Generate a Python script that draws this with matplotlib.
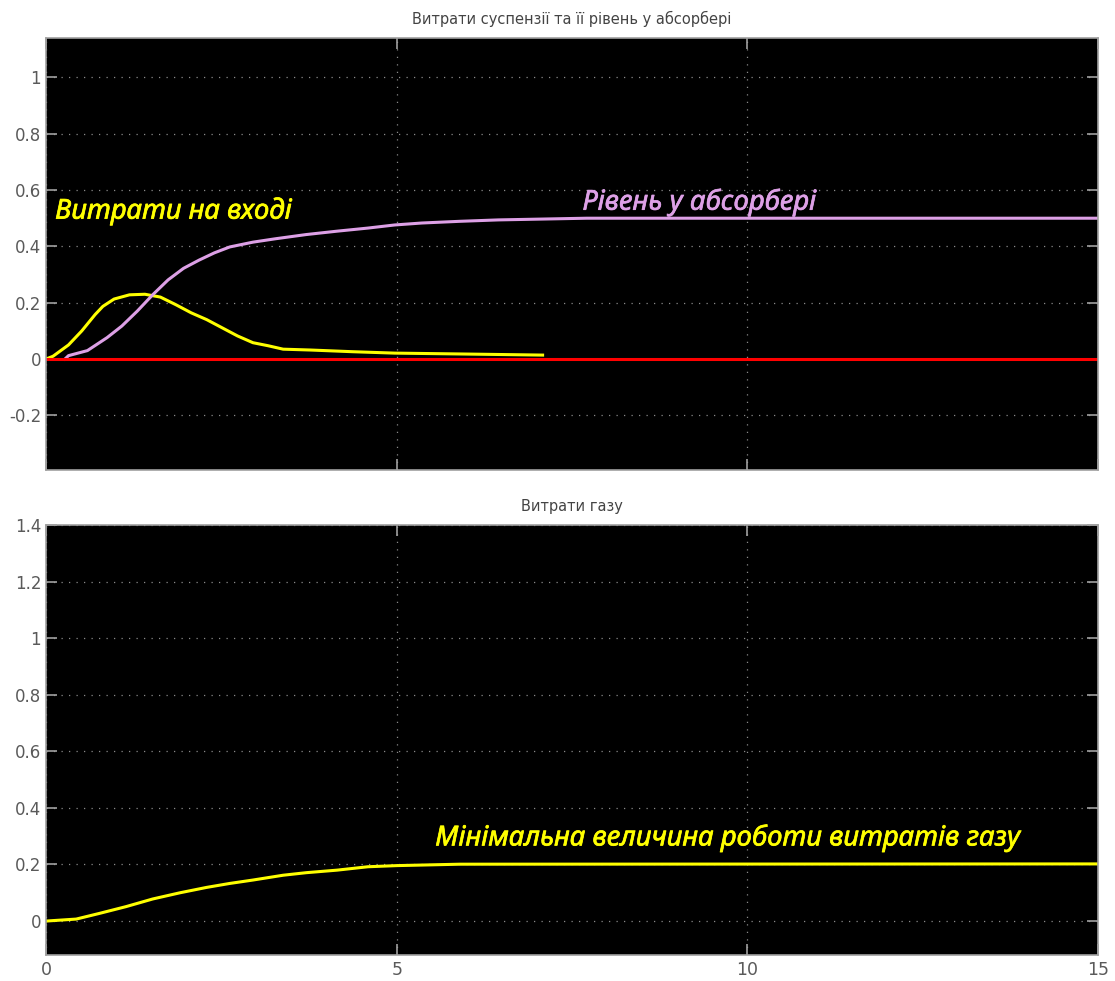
import matplotlib.pyplot as plt
import matplotlib.patheffects as pe
import numpy as np

# input flow (top plot, yellow)
t_in = [0.0, 0.1, 0.32, 0.51, 0.70, 0.81, 0.97, 1.19, 1.41, 1.63, 1.85, 2.07, 2.29,
        2.51, 2.73, 2.95, 3.17, 3.38, 3.77, 4.37, 4.97, 5.9, 7.08]
q_in = [0.0, 0.01, 0.05, 0.10, 0.158, 0.187, 0.213, 0.228, 0.23, 0.22, 0.193, 0.164, 0.14,
        0.111, 0.082, 0.058, 0.047, 0.035, 0.032, 0.026, 0.021, 0.018, 0.014]

# level in absorber (top plot, plum)
t_lvl = [0.27, 0.32, 0.59, 0.87, 1.08, 1.30, 1.52, 1.74, 1.96, 2.18, 2.40, 2.62, 2.95,
         3.27, 3.71, 4.15, 4.59, 4.97, 5.36, 5.9, 6.45, 7.71, 15.0]
lvl = [0.0, 0.012, 0.03, 0.076, 0.117, 0.17, 0.228, 0.281, 0.322, 0.351, 0.377, 0.398, 0.415,
       0.427, 0.442, 0.454, 0.465, 0.476, 0.483, 0.489, 0.494, 0.50, 0.50]

# zero reference (top plot, red)
t_ref = [0.0, 15.0]
ref = [0.0, 0.0]

# gas flow (bottom plot)
t_gas = [0.0, 0.43, 0.76, 1.14, 1.52, 1.91, 2.29, 2.62, 2.95, 3.38, 3.71, 4.15, 4.59,
         5.0, 5.9, 15.0]
q_gas = [0.0, 0.007, 0.027, 0.051, 0.078, 0.10, 0.119, 0.133, 0.145, 0.162, 0.171, 0.18, 0.192,
         0.196, 0.201, 0.202]

grey = "#5a5a5a"
fig = plt.figure(figsize=(11.15, 9.81), dpi=100, facecolor="white")
ax1 = fig.add_axes([0.0413, 0.5209, 0.9435, 0.4404])
ax2 = fig.add_axes([0.0413, 0.0265, 0.9435, 0.4383])

for ax in (ax1, ax2):
    ax.set_facecolor("black")
    ax.set_xlim(0, 15)
    ax.set_xticks([0, 5, 10, 15])
    ax.grid(True, color="#8a8a8a", linestyle=(0, (1, 5)), linewidth=0.9)
    ax.tick_params(direction="in", color="#a0a0a0", length=8, width=1.2,
                   labelcolor=grey, labelsize=12, right=True, top=True)
    for s in ax.spines.values():
        s.set_color("#a0a0a0")
        s.set_linewidth(1.2)


def label(ax, x, y, s, c):
    # semi-bold italic annotation: thin stroke in the text colour
    ax.text(x, y, s, color=c, fontsize=19.8, style="italic", family="Noto Sans",
            va="center", path_effects=[pe.withStroke(linewidth=0.5, foreground=c)])


ax1.set_ylim(-0.394, 1.14)
ax1.set_yticks([-0.2, 0, 0.2, 0.4, 0.6, 0.8, 1])
ax1.set_yticklabels(["-0.2", "0", "0.2", "0.4", "0.6", "0.8", "1"])
ax1.set_xticklabels([])
ax1.plot(t_in, q_in, color="#ffff00", linewidth=2.2)
ax1.plot(t_lvl, lvl, color="#dda0e6", linewidth=2.2)
ax1.plot(t_ref, ref, color="#ff0000", linewidth=2.2)
ax1.set_title("Витрати суспензії та її рівень у абсорбері", fontsize=10.5, color="#444444", pad=10)
label(ax1, 0.13, 0.525, "Витрати на вході", "#ffff00")
label(ax1, 7.65, 0.555, "Рівень у абсорбері", "#dda0e6")

ax2.set_ylim(-0.12, 1.4)
ax2.set_yticks([0, 0.2, 0.4, 0.6, 0.8, 1, 1.2, 1.4])
ax2.set_yticklabels(["0", "0.2", "0.4", "0.6", "0.8", "1", "1.2", "1.4"])
ax2.set_xticklabels(["0", "5", "10", "15"])
ax2.tick_params(axis="x", labelsize=12.5, pad=4)
ax2.plot(t_gas, q_gas, color="#ffff00", linewidth=2.2)
ax2.set_title("Витрати газу", fontsize=10.5, color="#444444", pad=10)
label(ax2, 5.55, 0.292, "Мінімальна величина роботи витратів газу", "#ffff00")

fig.savefig("out.png", dpi=100, facecolor="white")
